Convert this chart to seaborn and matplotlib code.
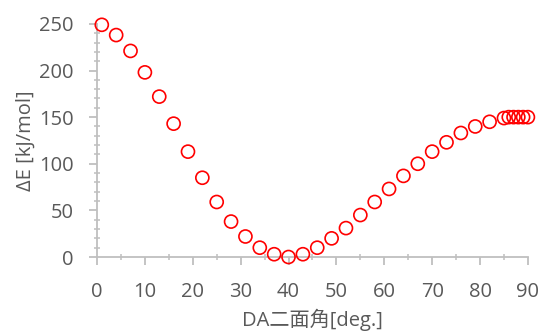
import numpy as np
import pandas as pd
import matplotlib
matplotlib.use('Agg')
import matplotlib.pyplot as plt
import seaborn as sns
from matplotlib.ticker import MultipleLocator

# dihedral angle [deg.] and relative energy [kJ/mol]
angle = [1, 4, 7, 10, 13, 16, 19, 22, 25, 28, 31, 34, 37, 40, 43, 46, 49, 52,
         55, 58, 61, 64, 67, 70, 73, 76, 79, 82, 85, 86, 87, 88, 89, 90]
energy = [249, 238, 221, 198, 172, 143, 113, 85, 59, 38, 22, 10, 3, 0, 3, 10,
          20, 31, 45, 59, 73, 87, 100, 113, 123, 133, 140, 145, 149, 150, 150,
          150, 150, 150]

df = pd.DataFrame({'angle': angle, 'energy': energy})

sns.set_style('white')
plt.rcParams['font.family'] = ['Open Sans', 'Noto Sans CJK JP', 'DejaVu Sans']

fig = plt.figure(figsize=(5.42, 3.34), dpi=100)
ax = fig.add_axes([0.179, 0.2305, 0.795, 0.698])

sns.scatterplot(data=df, x='angle', y='energy', ax=ax, marker='o', s=88,
                facecolor='none', edgecolor='#ff0000', linewidth=1.2,
                clip_on=False, zorder=3)

ax.set_xlim(0, 90)
ax.set_ylim(0, 250)
ax.xaxis.set_major_locator(MultipleLocator(10))
ax.xaxis.set_minor_locator(MultipleLocator(5))
ax.yaxis.set_major_locator(MultipleLocator(50))
ax.yaxis.set_minor_locator(MultipleLocator(10))

grey = '#bfbfbf'
for side in ['top', 'right']:
    ax.spines[side].set_visible(False)
for side in ['left', 'bottom']:
    ax.spines[side].set_color(grey)
    ax.spines[side].set_linewidth(1.3)

# seaborn's white style hides ticks, switch them back on
ax.tick_params(axis='x', which='both', bottom=True)
ax.tick_params(axis='y', which='both', left=True)
ax.tick_params(which='major', direction='out', length=6, width=1.3,
               color=grey, labelcolor='#595959', labelsize=14.5)
ax.tick_params(which='minor', direction='inout', length=5, width=1.1,
               color=grey)
ax.tick_params(axis='x', which='major', pad=12)
ax.tick_params(axis='y', which='major', pad=11)

ax.set_xlabel('DA二面角[deg.]', fontsize=14.5, color='#595959', labelpad=5)
ax.set_ylabel('ΔE [kJ/mol]', fontsize=14.5, color='#595959', labelpad=2)

fig.savefig('out.png', dpi=100)
